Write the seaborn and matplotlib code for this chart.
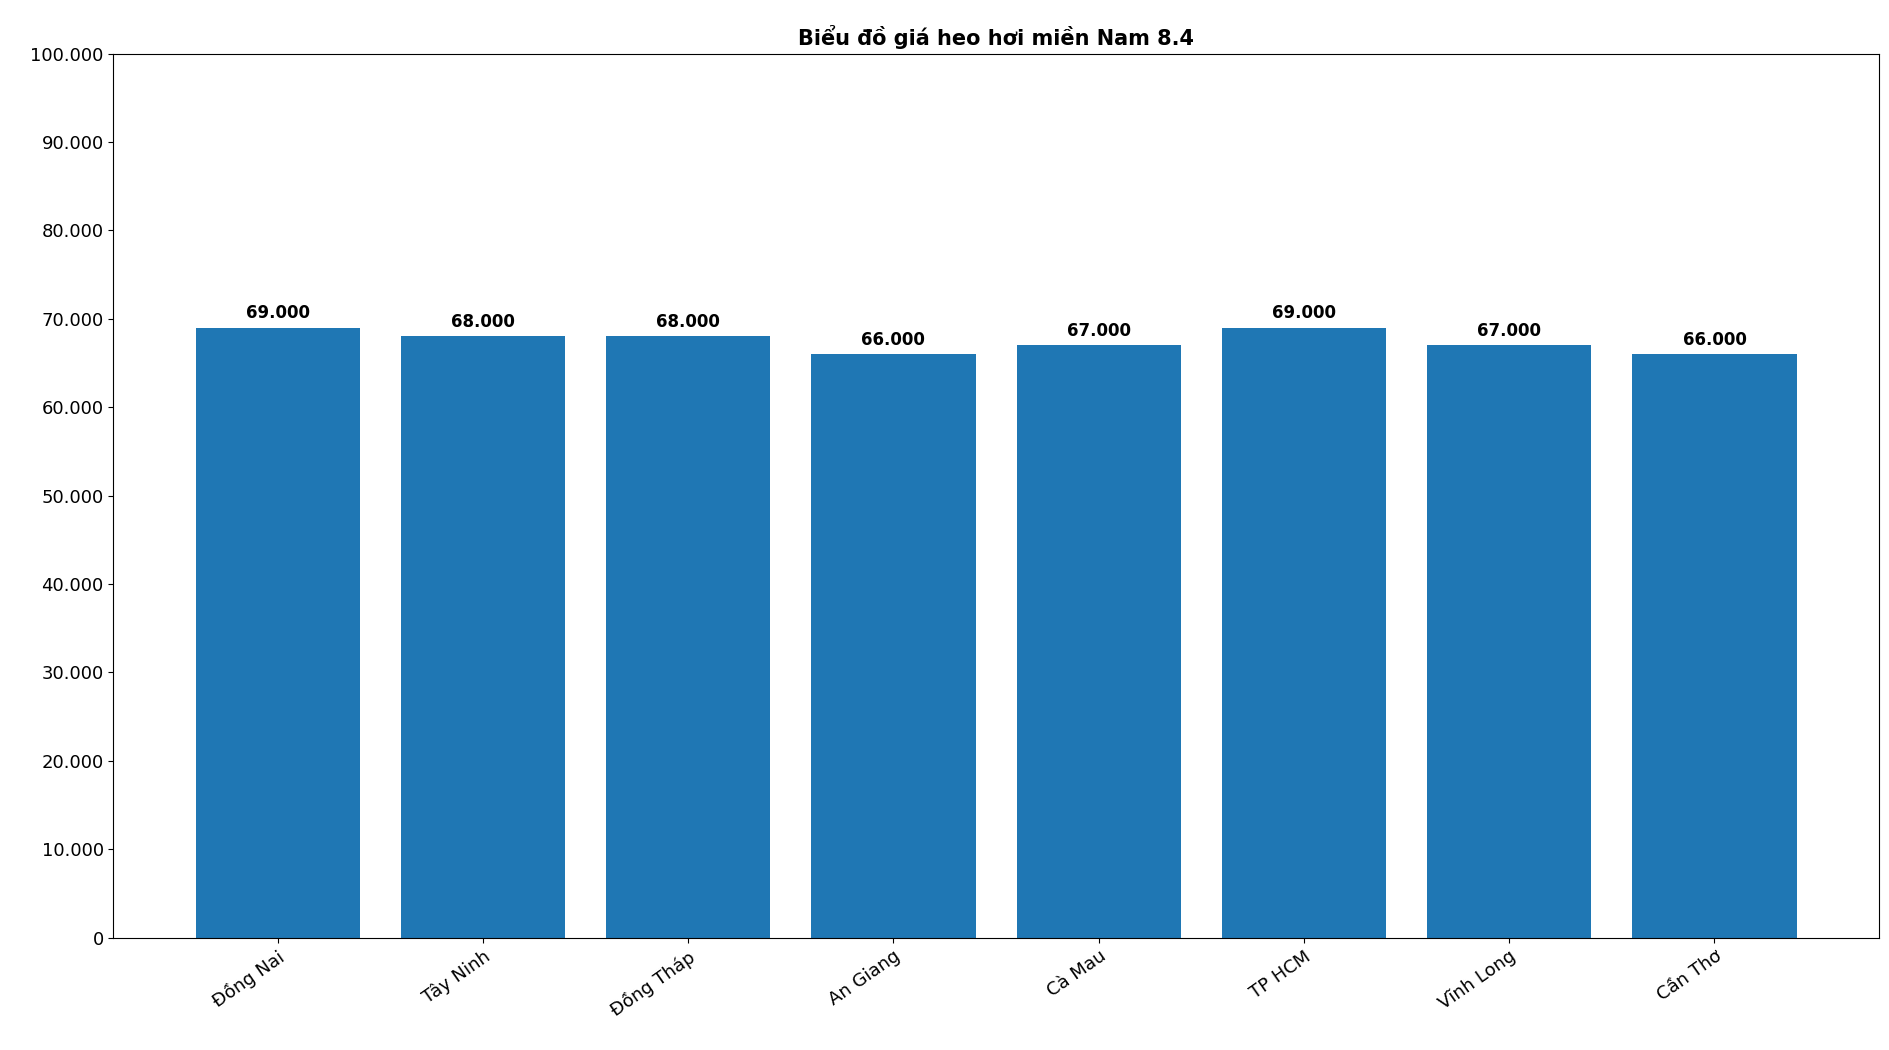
import matplotlib
matplotlib.use('Agg')
import matplotlib.pyplot as plt
import seaborn as sns
import pandas as pd
from matplotlib.ticker import FuncFormatter

# dữ liệu giá heo hơi miền Nam
provinces = ['Đồng Nai', 'Tây Ninh', 'Đồng Tháp', 'An Giang', 'Cà Mau', 'TP HCM', 'Vĩnh Long', 'Cần Thơ']
prices = [69000, 68000, 68000, 66000, 67000, 69000, 67000, 66000]

df = pd.DataFrame({'province': provinces, 'price': prices})

plt.rcParams['font.family'] = ['DejaVu Sans']
plt.rcParams['font.size'] = 13

fig, ax = plt.subplots(figsize=(18.9, 10.5), dpi=100)
fig.subplots_adjust(left=0.06, right=0.994, top=0.949, bottom=0.107)

sns.barplot(data=df, x='province', y='price', color='#1f77b4', saturation=1, width=0.8, ax=ax)

def dot_fmt(v, pos=None):
    return f'{int(v):,}'.replace(',', '.')

for i, v in enumerate(prices):
    ax.text(i, v + 600, dot_fmt(v), ha='center', va='bottom', fontsize=12, fontweight='bold')

ax.set_ylim(0, 100000)
ax.set_yticks(range(0, 100001, 10000))
ax.yaxis.set_major_formatter(FuncFormatter(dot_fmt))
ax.set_xlim(-0.8, 7.8)
ax.set_xlabel('')
ax.set_ylabel('')
plt.setp(ax.get_xticklabels(), rotation=35, ha='right', rotation_mode='anchor')
ax.tick_params(labelsize=13)
ax.set_title('Biểu đồ giá heo hơi miền Nam 8.4', fontsize=15, fontweight='bold')

plt.savefig('out.png')
